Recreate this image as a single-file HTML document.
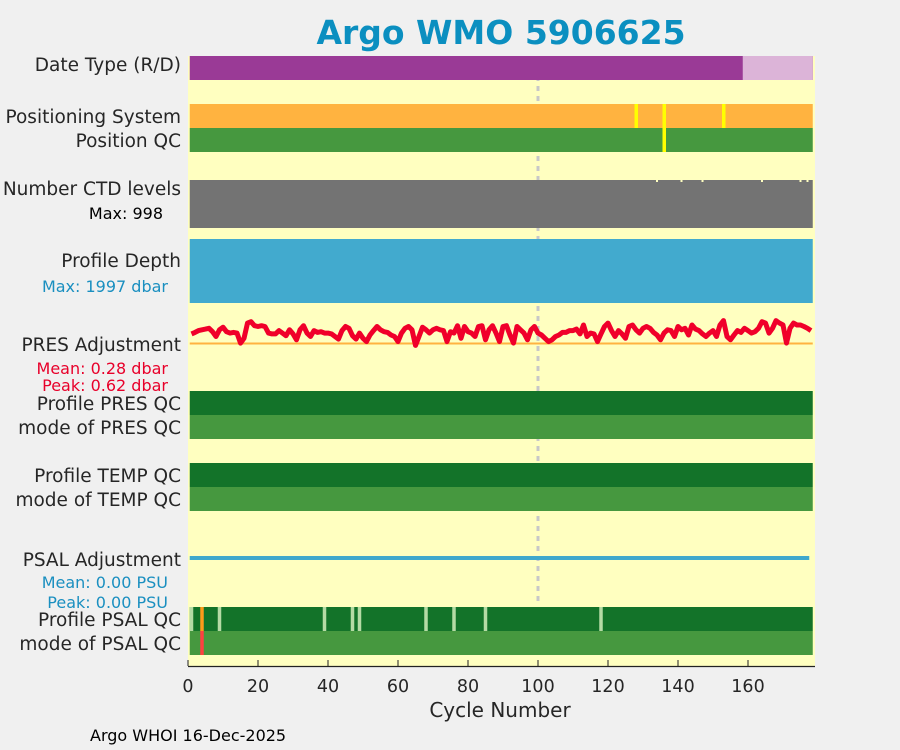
<!DOCTYPE html>
<html><head><meta charset="utf-8"><style>
body{margin:0;background:#f0f0f0;}
svg{display:block;font-family:"DejaVu Sans","Liberation Sans",sans-serif;}
</style></head><body>
<svg id="chart" width="900" height="750">
<rect x="0" y="0" width="900" height="750" fill="#f0f0f0"/>
<text x="501" y="44" text-anchor="middle" font-size="33" font-weight="bold" fill="#0b8fc0">Argo WMO 5906625</text>
<rect x="188" y="56" width="627" height="610" fill="#ffffc0"/>
<g id="marks"></g>
<line x1="188" y1="666.5" x2="815" y2="666.5" stroke="#222" stroke-width="1.2"/>
<g id="xticks"></g>
<text x="500" y="717" text-anchor="middle" font-size="20" fill="#262626">Cycle Number</text>
<g font-size="18.5" fill="#262626" text-anchor="end">
<text x="181" y="71">Date Type (R/D)</text>
<text x="181" y="123">Positioning System</text>
<text x="181" y="147">Position QC</text>
<text x="181" y="195">Number CTD levels</text>
<text x="181" y="267">Profile Depth</text>
<text x="181" y="351">PRES Adjustment</text>
<text x="181" y="410">Profile PRES QC</text>
<text x="181" y="434">mode of PRES QC</text>
<text x="181" y="482">Profile TEMP QC</text>
<text x="181" y="506">mode of TEMP QC</text>
<text x="181" y="566">PSAL Adjustment</text>
<text x="181" y="626">Profile PSAL QC</text>
<text x="181" y="650">mode of PSAL QC</text>
</g>
<g font-size="16" text-anchor="end">
<text x="163" y="219" fill="#000">Max: 998</text>
<text x="168" y="292" fill="#1a8fc0">Max: 1997 dbar</text>
<text x="168" y="374" fill="#e8002a">Mean: 0.28 dbar</text>
<text x="168" y="391" fill="#e8002a">Peak: 0.62 dbar</text>
<text x="168" y="588" fill="#1a8fc0">Mean: 0.00 PSU</text>
<text x="168" y="608" fill="#1a8fc0">Peak: 0.00 PSU</text>
</g>
<text x="90" y="741" font-size="16" fill="#000">Argo WHOI 16-Dec-2025</text>
</svg>
<script>
const xTicks=[0,20,40,60,80,100,120,140,160];
const nCycles=178;
const realtimeFrom=159;
const posSysYellow=[128,136,153];
const posQcYellow=[136];
const ctdGaps=[134,141,147,164,175,177];
const psalQcLight=[1,9,39,47,49,68,76,85,118];
const psalQcOrange=[4];
const psalModeRed=[4];
const presAdj=[.26,.30,.35,.37,.39,.41,.32,.19,.37,.44,.32,.28,.30,.28,.01,.14,.55,.59,.48,.46,.48,.46,.28,.26,.26,.35,.28,.21,.37,.26,.10,.37,.48,.28,.19,.35,.30,.32,.28,.28,.26,.19,.12,.35,.46,.41,.21,.12,.28,.14,.05,.23,.35,.46,.37,.32,.30,.23,.19,.05,.28,.41,.46,.37,-.05,.19,.44,.37,.28,.37,.41,.37,.35,.05,.32,.28,.48,.14,.46,.32,.28,.19,.46,.48,.10,.37,.48,.28,.05,.46,.48,.23,.01,.46,.37,.28,.10,.37,.46,.28,.23,.14,.05,.10,.19,.23,.30,.30,.35,.35,.39,.26,.50,.19,.28,.26,.05,.26,.46,.55,.35,.19,.35,.26,.14,.46,.50,.37,.28,.41,.46,.41,.30,.23,.10,.28,.37,.35,.19,.46,.37,.41,.23,.50,.39,.35,.26,.19,.28,.35,.19,.50,.62,.19,.10,.23,.35,.30,.41,.35,.28,.32,.41,.59,.55,.28,.41,.62,.55,.50,.01,.41,.55,.50,.50,.46,.41,.35];
const X0=188,PX=3.5;
const xs=v=>X0+v*PX;
const yPres=v=>343.5-v*37;
const NS='http://www.w3.org/2000/svg';
const g=document.getElementById('marks');
function mk(tag,attrs,parent){const e=document.createElementNS(NS,tag);for(const k in attrs)e.setAttribute(k,attrs[k]);(parent||g).appendChild(e);return e;}
let dl=mk('line',{x1:xs(100),x2:xs(100),y1:56,y2:605,stroke:'#c8c8c8','stroke-width':3,'stroke-dasharray':'5,5'});


function band(y,h,color,name){const r=mk('rect',{x:xs(0.5),y:y,width:xs(nCycles+0.5)-xs(0.5),height:h,fill:color});

}
function cell(c,y,h,color,name){const r=mk('rect',{x:xs(c-0.5),y:y,width:PX,height:h,fill:color});

}
band(56,24,'#9a3a96','date-type-bar');
const rt=mk('rect',{x:xs(realtimeFrom-0.5),y:56,width:xs(nCycles+0.5)-xs(realtimeFrom-0.5),height:24,fill:'#dcb4d8'});


band(104,24,'#ffb340','positioning-system-bar');
posSysYellow.forEach(c=>{const r=mk('rect',{x:xs(c)-1.5,y:104,width:3.5,height:24,fill:'#ffff00'});

});
band(128,24,'#46983f','position-qc-bar');
posQcYellow.forEach(c=>{const r=mk('rect',{x:xs(c)-1.5,y:128,width:3.5,height:24,fill:'#ffff00'});

});
band(180,48,'#737373','ctd-levels-bar');
ctdGaps.forEach(c=>{const r=mk('rect',{x:xs(c)-1,y:180,width:2,height:2,fill:'#ffffc0'});

});
band(239,64,'#42aace','profile-depth-bar');
const zl=mk('line',{x1:xs(0.5),x2:xs(nCycles+0.5),y1:yPres(0),y2:yPres(0),stroke:'#ffb340','stroke-width':2});


const pts=presAdj.map((v,i)=>xs(i+1).toFixed(1)+','+yPres(v).toFixed(1)).join(' ');
const pl=mk('polyline',{points:pts,fill:'none',stroke:'#f0002a','stroke-width':5,'stroke-linejoin':'round'});


band(391,24,'#137329','profile-pres-qc-bar');
band(415,24,'#46983f','mode-pres-qc-bar');
band(463,24,'#137329','profile-temp-qc-bar');
band(487,24,'#46983f','mode-temp-qc-bar');
const ps=mk('line',{x1:xs(0.5),x2:xs(nCycles-0.5),y1:558,y2:558,stroke:'#3fa8cc','stroke-width':4});


band(607,24,'#137329','profile-psal-qc-bar');
psalQcLight.forEach(c=>cell(c,607,24,'#b5dba5','psal-qc-light-cell'));
psalQcOrange.forEach(c=>cell(c,607,24,'#ff9a1a','psal-qc-orange-cell'));
band(631,24,'#46983f','mode-psal-qc-bar');
psalModeRed.forEach(c=>cell(c,631,24,'#ff4040','psal-mode-red-cell'));
const tg=document.getElementById('xticks');
xTicks.forEach(t=>{const l=mk('line',{x1:xs(t),x2:xs(t),y1:666,y2:660,stroke:'#222','stroke-width':1},tg);


const tx=mk('text',{x:xs(t),y:692,'text-anchor':'middle','font-size':17.5,fill:'#262626'},tg);tx.textContent=t;

});
</script>
</body></html>
